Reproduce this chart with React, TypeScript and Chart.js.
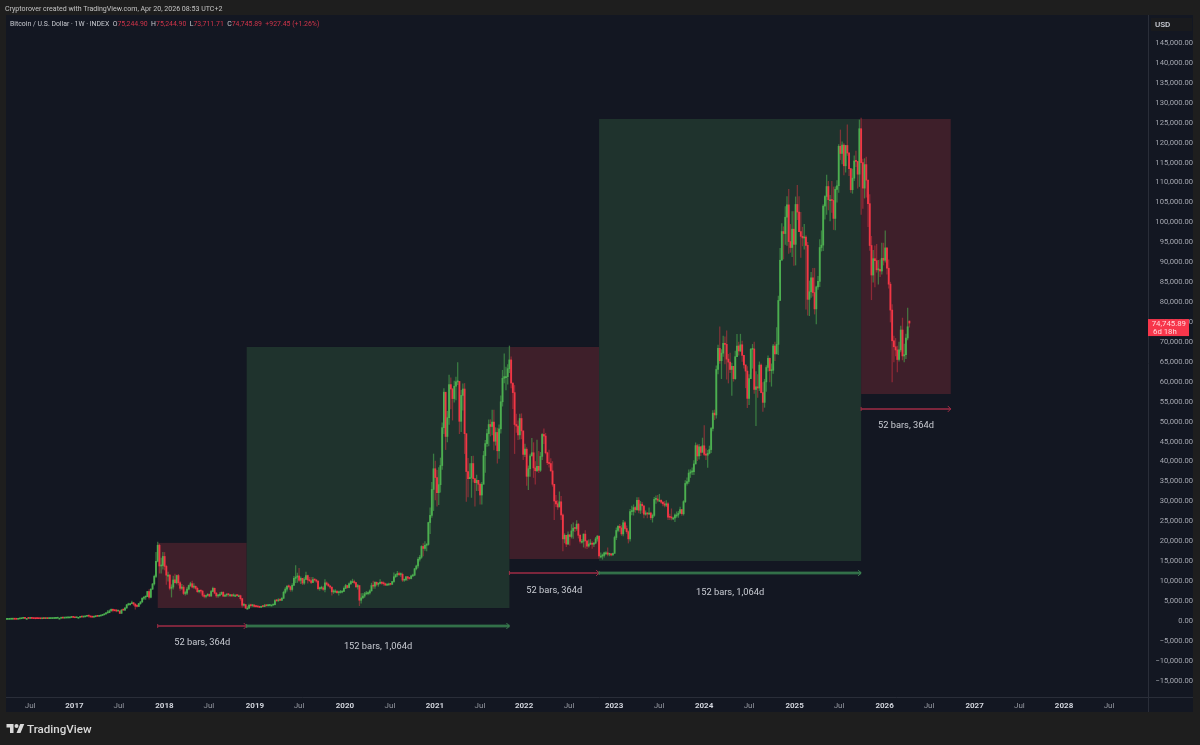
import { useEffect, useRef } from "react"
import { Chart, registerables } from "chart.js"

Chart.register(...registerables)

// weekly bars, one line per calendar year (first bar is the week of Apr 4 2016)
const closes = [
  420,427,450,455,458,455,442,530,575,670,760,660,660,650,665,655,610,590,585,580,570,608,605,608,605,615,618,640,655,700,705,705,745,735,765,775,790,895,1000,
  900,825,920,920,1020,1000,1050,1185,1270,1230,1020,970,1090,1190,1180,1260,1400,1550,1750,2040,2100,2520,2950,2650,2590,2500,2510,1930,2750,2740,3250,4050,4090,4350,4580,4230,3700,3660,4370,4780,5700,6000,6130,7400,5950,8000,9300,11200,15000,19000,13800,13900,
  16200,13700,11500,11500,8200,8500,10300,9600,11400,9600,8200,8500,6900,7000,8000,8900,9350,8500,8700,8200,7350,7700,7500,6450,6150,6400,6700,6250,7400,8200,7000,6300,6400,6700,7200,6250,6500,6700,6600,6600,6300,6400,6400,6350,6350,5600,3950,4100,3200,3200,3950,3850,4000,
  3650,3600,3550,3450,3650,3620,3900,3850,3900,4000,4000,4100,5100,5050,5300,5200,5700,7200,8000,8700,8600,7900,8950,10700,11000,11300,10200,10700,9500,10400,11400,10300,10100,9650,10400,10300,10000,8100,8200,8300,7950,9550,9200,8800,8500,7300,7500,7500,7100,7150,7250,7400,
  8200,8900,8400,9350,9900,9900,9650,8550,8900,5200,5800,6250,6800,6850,7050,7550,8900,8750,9700,9200,9450,9700,9450,9350,9000,9050,9300,9200,9900,11100,11600,11900,11650,11700,10250,10300,11100,10750,10650,11300,11500,13100,13800,15500,16000,18700,18200,19000,19200,24700,26500,33000,
  38200,36000,32200,34200,39000,48500,57400,46300,51000,59300,58200,55800,58900,60000,60100,50100,56600,58200,47000,37500,35700,36000,39500,35700,34700,35300,34300,31600,34300,41500,44500,47000,49300,48800,49900,45100,47300,42700,48200,55000,60900,61300,61300,63300,65500,59700,57300,49300,48900,46700,50800,47700,
  41800,43100,36300,38200,41400,42200,38400,37700,38800,37800,41300,46800,46400,42200,39700,39500,37650,34300,30100,29400,28600,29900,26600,20600,21500,19300,21600,21200,22600,23300,23200,24300,21500,20000,20000,21800,20100,18800,19300,19400,19250,19550,20600,21300,16300,16300,16450,17100,17100,16750,16850,16550,
  16950,20950,22700,23750,23350,21850,24650,23200,22400,20600,27450,27500,28450,27950,30300,27800,29300,28900,26800,27100,26850,27100,25900,26500,30500,30600,30300,30300,29800,29400,29050,29400,26050,26000,25850,25850,26600,26600,27000,27950,26900,29950,34500,35000,37100,37400,37450,39400,44000,41400,43700,42300,
  43950,41800,41600,42050,43000,48300,52150,51700,63100,68400,65300,67200,69650,69400,65700,64950,63100,63900,60800,66300,69000,67750,69300,66650,64250,62700,55850,60800,68150,68250,58100,58750,58450,64200,57300,54850,60000,63600,65900,62800,62900,69000,67000,69400,80400,90500,97700,97200,101300,104400,95200,93700,98300,
  94500,104500,102600,97700,96500,96100,96300,94250,80700,82600,86100,82400,78300,83800,85200,93700,94300,104100,106500,109000,105700,105700,105500,101000,108300,109200,119100,117300,119400,114200,119300,117400,113500,108200,111100,115400,115300,112100,123500,115000,108600,114500,110600,104700,94200,86800,90900,90400,88100,88200,87800,91000,
  90500,93600,88500,84500,78000,70300,68800,68000,65600,68000,73000,66500,66800,71000,73818,74745.89,
]
const highs = [
  425,430,460,465,465,470,458,535,590,680,780,770,680,680,675,680,660,610,600,590,585,615,615,615,612,620,625,645,660,705,745,725,755,750,770,780,795,900,1010,
  1150,910,930,930,1030,1050,1060,1190,1280,1350,1250,1060,1100,1210,1210,1270,1420,1600,1800,2100,2700,2800,3000,2980,2780,2900,2650,2550,2880,2850,3450,4200,4480,4450,4980,4700,4350,4100,4400,4880,5850,6150,6250,7450,7880,8050,9400,11500,17200,19780,19300,15800,
  17200,17200,14000,12300,11700,9100,11250,11750,11500,11700,9900,9200,8950,7500,8450,9030,9750,9990,9400,8850,8500,7780,7780,7680,6800,6500,6900,6800,7680,8480,8300,7150,6550,7100,7300,7400,6550,6800,6800,6700,6650,6800,6600,6500,6550,6500,5700,4400,4200,3600,4250,4250,4100,
  4100,3800,3650,3600,3700,3700,4200,3950,3950,4000,4050,4200,5350,5450,5600,5650,5850,7500,8400,8950,9100,8800,9400,11200,13900,12000,13200,11100,10700,10900,12300,11500,10950,10950,10950,10450,10400,10100,8500,8750,8700,10400,9800,9500,8900,8500,7850,7900,7500,7500,7700,7550,
  8550,9200,8800,9550,10150,10500,10250,9700,9200,8200,6900,6950,7200,7450,7300,7800,9500,10000,9900,9850,9600,10400,9980,9850,9500,9350,9500,9350,9950,12100,11800,12450,12300,12100,12050,10400,11200,11200,10950,11500,11750,13200,14000,15900,16500,18900,19400,19900,19450,24800,28400,34800,
  41900,40100,37800,38500,40900,49700,58300,52600,52600,61700,61000,58400,60200,61200,64850,57500,57900,59500,59600,45900,40800,39500,41300,41400,35500,36600,35100,34600,34800,42600,45300,48100,50500,50500,52900,52900,48500,48400,49200,56500,62900,67000,63700,64300,69000,66300,59400,59100,51900,50200,51900,52000,
  47500,44400,43500,38900,41900,45800,44750,40000,45400,42550,42300,47000,48200,47100,42400,42900,40750,40000,34200,31500,30200,32400,31300,26900,21900,21500,22400,21650,24200,24650,23400,25200,24450,21800,20500,21850,22700,19950,20350,20450,19950,19700,21000,21450,21050,17100,16800,17300,17400,18350,16950,16950,
  17050,21300,23350,23950,24250,23950,25250,25000,23900,22650,28000,28850,29150,28700,30950,30950,30000,29750,28650,27650,27200,28400,27350,26850,31000,31400,31500,31800,30400,30000,30000,30200,29700,26800,28150,26100,26900,27400,27500,28600,28000,30200,35200,35900,37950,37950,38400,40250,44700,44400,44300,43800,
  45900,49000,43200,42800,43900,48600,52800,52950,64000,69200,73800,68100,71500,71300,72800,66900,67200,64700,63450,67700,71950,70000,71950,70200,66500,63400,63800,61800,68400,69400,70000,62600,61800,65000,64500,59800,60650,64100,66500,66000,64500,69400,70000,73600,81500,93500,99700,98900,104000,106500,108300,99500,102700,
  102700,106400,109300,106500,102500,98800,99500,96700,95000,85300,87500,88500,88500,84000,86500,95700,97900,104500,106700,111900,110300,106800,110300,108900,108900,110500,119500,123200,120200,119800,119300,124500,117600,113500,113400,116700,117900,113500,125700,126200,115900,116000,116400,107500,107000,96500,93000,94100,94500,90500,90600,94800,
  94800,97900,93500,90600,85000,79400,71500,70900,69000,70000,74000,76000,69500,72000,78500,75244.9,
]
const lows = [
  410,418,425,448,440,445,435,440,525,570,660,560,600,630,645,645,600,520,565,565,560,565,600,600,590,600,610,615,635,650,680,695,690,725,715,755,770,785,885,
  880,750,820,880,915,940,975,1040,1150,950,950,910,940,1050,1120,1160,1250,1380,1540,1700,1950,2100,2450,2300,2480,2300,2400,1850,1900,2650,2650,3200,3950,3950,4350,3900,2950,3500,3600,4170,4650,5350,5400,6100,5500,5800,7900,9000,10900,14800,12000,12000,
  13000,12800,9200,10000,7800,6000,8000,9500,9300,9000,7700,7900,6600,6500,6600,7800,8650,8300,8200,7900,7200,7050,7000,6100,5800,5800,6200,6100,6250,7400,6800,5900,5900,6250,6700,6100,6100,6150,6200,6100,6100,6250,6350,6300,6250,5200,3500,3700,3200,3120,3200,3550,3650,
  3550,3450,3500,3350,3400,3550,3600,3700,3700,3800,3900,3950,4050,4950,4950,5100,5100,5650,6900,7500,8300,7450,7500,8950,9600,9700,9800,9350,9100,9150,10400,9500,9900,9350,9650,10000,9700,7800,7700,8000,7700,7300,8900,8700,8100,6500,6900,7150,6900,6450,7000,7050,
  7700,8100,8250,8300,9100,9700,9300,8500,8000,3850,4450,5650,5900,6650,6550,6700,7500,8200,8200,8800,8700,9300,9150,8950,8950,8900,9000,9000,9200,9700,10950,11200,11400,11200,9900,9900,10200,10150,10450,10550,11200,11350,12800,13300,15000,15700,16300,17700,17600,19000,21900,26000,
  27700,30400,28800,29200,32300,38000,47000,43000,44950,49300,53200,50400,54900,55450,59300,47000,47500,52900,42000,30000,31100,35700,31000,34800,28800,32700,32700,29300,29300,36400,37300,43800,43900,46400,46700,42900,44100,39600,40800,47100,53900,59700,58000,59400,62300,58500,53300,42000,47300,45500,45600,45700,
  40500,41250,34000,32950,36300,41700,36000,34300,37450,37200,37500,40500,44500,41900,39250,38600,37600,33800,25400,28700,28000,29300,25400,17600,19600,18650,19300,19000,20800,20700,22400,22700,20800,19550,19550,18550,18300,18150,18500,19150,18200,18650,19350,20050,15750,15800,15500,16000,16750,16300,16350,16350,
  16500,17300,20400,22350,22500,21450,21350,22800,21950,19550,20050,26600,26550,27250,27750,27100,26950,27100,25850,26550,25850,26650,25400,24800,26250,29500,29900,29950,29500,28900,28600,28700,25400,25400,25350,25400,24950,26000,26000,27150,26500,26550,29700,34100,34500,36000,36700,36700,39400,40200,40600,41450,
  42600,41500,40500,38500,41900,42250,47700,50500,50900,62000,64600,60800,66400,64500,60700,59700,62300,56600,60150,60600,66600,66700,67600,65100,63400,58500,53500,54300,62400,63400,57100,49000,56100,57800,57200,52600,53600,57600,62700,60000,58900,62100,65300,67500,66800,85000,90800,90800,94500,94200,92200,92500,91400,
  89200,89300,100700,97800,91200,94100,93300,78200,76700,76600,81200,81500,77000,74500,83200,83900,92800,92900,100800,102000,103100,100400,102500,98200,98100,105100,107500,115700,114700,111900,112600,116800,111700,107500,107300,110500,114000,108600,109000,102000,103500,106100,106300,98900,93000,80600,85000,83800,87500,84500,86400,87000,
  89300,90000,87000,83500,75000,60000,65000,66500,62500,65200,67500,65500,65000,65800,70500,73711.71,
]
const firstOpen = 415
const lastOpen = 75244.9

const xTickPositions = [14,39.7,65.5,91.9,117.7,144.4,170,196.6,222.7,248.8,274.9,300.5,326.6,352.7,378.8,404.9,431,457.4,483.2,509.6,535.4,561.8,587.8,613.7,639.8]
const xTickLabels = ["Jul","2017","Jul","2018","Jul","2019","Jul","2020","Jul","2021","Jul","2022","Jul","2023","Jul","2024","Jul","2025","Jul","2026","Jul","2027","Jul","2028","Jul"]
const priceTicks = [-15000,-10000,-5000,0,5000,10000,15000,20000,25000,30000,35000,40000,45000,50000,55000,60000,65000,70000,75000,80000,85000,90000,95000,100000,105000,110000,115000,120000,125000,130000,135000,140000,145000]

// the shaded date/price ranges, in bar index and USD
const rangeStarts = [88, 139.6, 292, 344, 496]
const rangeEnds = [139.6, 292, 344, 496, 548]
const rangeTops = [19600, 68741, 68741, 125940, 125940]
const rangeBottoms = [3260, 3260, 15554, 15052, 56950]
const rangeIsUp = [false, true, false, true, false]
const rangeArrowValues = [-1250, -1250, 12050, 12050, 53200]
const rangeLabelValues = [-5500, -6500, 7550, 7000, 49000]
const rangeLabels = ["52 bars, 364d", "152 bars, 1,064d", "52 bars, 364d", "152 bars, 1,064d", "52 bars, 364d"]

const lastPrice = 74745.89
const lastPriceLabel = "74,745.89"
const countdownLabel = "6d 18h"

const UP = "#4caf50"
const DOWN = "#f23645"
const FONT = "Roboto, 'Noto Sans', sans-serif"

const opens = closes.map((_, i) => (i === 0 ? firstOpen : i === closes.length - 1 ? lastOpen : closes[i - 1]))
const isUp = closes.map((c, i) => c >= opens[i])

function formatPrice(v: number) {
  const s = Math.abs(v).toLocaleString("en-US", { minimumFractionDigits: 2, maximumFractionDigits: 2 })
  return v < 0 ? "\u2212" + s : s
}

const overlayPlugin = {
  id: "overlay",
  beforeDraw(chart: Chart) {
    const { ctx, chartArea, width, height } = chart
    const axisRight = chart.scales.y.right
    const axisBottom = chart.scales.x.bottom
    ctx.save()
    ctx.fillStyle = "#1e1e1e"
    ctx.fillRect(0, 0, width, height)
    ctx.fillStyle = "#131722"
    ctx.fillRect(chartArea.left, chartArea.top, axisRight - chartArea.left, axisBottom - chartArea.top)
    ctx.restore()
  },
  beforeDatasetsDraw(chart: Chart) {
    const { ctx, scales } = chart
    ctx.save()
    rangeStarts.forEach((start, i) => {
      const x0 = scales.x.getPixelForValue(start)
      const x1 = scales.x.getPixelForValue(rangeEnds[i])
      const y0 = scales.y.getPixelForValue(rangeTops[i])
      const y1 = scales.y.getPixelForValue(rangeBottoms[i])
      ctx.fillStyle = rangeIsUp[i] ? "#1f332d" : "#3e1f2a"
      ctx.fillRect(x0, y0, x1 - x0, y1 - y0)
    })
    ctx.restore()
  },
  afterDraw(chart: Chart) {
    const { ctx, scales, chartArea } = chart
    const axisRight = scales.y.right
    const axisBottom = scales.x.bottom
    ctx.save()

    // pane separators
    ctx.strokeStyle = "#2a2e39"
    ctx.lineWidth = 1
    ctx.beginPath()
    ctx.moveTo(chartArea.left, chartArea.bottom + 0.5)
    ctx.lineTo(axisRight, chartArea.bottom + 0.5)
    ctx.moveTo(chartArea.right + 0.5, chartArea.top)
    ctx.lineTo(chartArea.right + 0.5, axisBottom)
    ctx.stroke()

    // measure arrows and their labels
    ctx.textAlign = "center"
    ctx.textBaseline = "middle"
    rangeStarts.forEach((start, i) => {
      const x0 = scales.x.getPixelForValue(start)
      const x1 = scales.x.getPixelForValue(rangeEnds[i])
      const y = scales.y.getPixelForValue(rangeArrowValues[i])
      ctx.strokeStyle = rangeIsUp[i] ? "#2a5f40" : "#a02c46"
      ctx.lineWidth = rangeIsUp[i] ? 3 : 1.4
      ctx.beginPath()
      ctx.moveTo(x0, y)
      ctx.lineTo(x1, y)
      ctx.stroke()
      if (rangeIsUp[i]) {
        ctx.strokeStyle = "#3d8252"
        ctx.lineWidth = 1
        ctx.beginPath()
        ctx.moveTo(x0, y)
        ctx.lineTo(x1, y)
        ctx.stroke()
      }
      ctx.lineWidth = 1
      ctx.beginPath()
      ctx.moveTo(x1 - 3, y - 3)
      ctx.lineTo(x1, y)
      ctx.lineTo(x1 - 3, y + 3)
      ctx.moveTo(x0, y - 2)
      ctx.lineTo(x0, y + 2)
      ctx.stroke()

      ctx.fillStyle = "#c9ccd3"
      ctx.font = `9.3px ${FONT}`
      ctx.fillText(rangeLabels[i], (x0 + x1) / 2, scales.y.getPixelForValue(rangeLabelValues[i]))
    })

    // USD box at the top of the price axis
    ctx.fillStyle = "#191a1d"
    ctx.fillRect(chartArea.right + 3, chartArea.top + 3, 41, 13)
    ctx.fillStyle = "#d1d4dc"
    ctx.textAlign = "left"
    ctx.font = `500 8px ${FONT}`
    ctx.fillText("USD", chartArea.right + 7, chartArea.top + 9.5)

    // last price tag
    const tagY = scales.y.getPixelForValue(lastPrice)
    ctx.fillStyle = "#f7364b"
    ctx.fillRect(chartArea.right, tagY - 4, 41, 17)
    ctx.fillStyle = "#ffd9dd"
    ctx.textAlign = "right"
    ctx.font = `7.8px ${FONT}`
    ctx.fillText(lastPriceLabel, chartArea.right + 38, tagY + 0.5)
    ctx.textAlign = "left"
    ctx.fillText(countdownLabel, chartArea.right + 5, tagY + 8.5)
    ctx.restore()
  },
}

export default function App() {
  const chartRef = useRef<HTMLCanvasElement>(null)
  const chartInstance = useRef<Chart | null>(null)

  useEffect(() => {
    if (!chartRef.current) return
    const ctx = chartRef.current.getContext("2d")
    if (!ctx) return

    chartInstance.current = new Chart(ctx, {
      type: "bar",
      data: {
        datasets: [
          {
            label: "Body",
            data: closes.map((c, i) => ({ x: i, y: [opens[i], c] })),
            backgroundColor: isUp.map((u) => (u ? UP : DOWN)),
            barThickness: 1.2,
            minBarLength: 1,
            grouped: false,
            order: 1,
          },
          {
            label: "Wick",
            data: closes.map((_, i) => ({ x: i, y: [lows[i], highs[i]] })),
            backgroundColor: isUp.map((u) => (u ? "rgba(76,175,80,0.6)" : "rgba(242,54,69,0.45)")),
            barThickness: 0.6,
            grouped: false,
            order: 2,
          },
        ] as any,
      },
      plugins: [overlayPlugin],
      options: {
        responsive: false,
        animation: false,
        layout: { padding: { left: 6, top: 15, right: 7, bottom: 33 } },
        plugins: { legend: { display: false }, tooltip: { enabled: false } },
        scales: {
          x: {
            type: "linear",
            min: 0,
            max: 662.4,
            offset: false,
            grid: { display: false, offset: false, drawTicks: false },
            border: { display: false },
            afterBuildTicks: (axis: any) => {
              axis.ticks = xTickPositions.map((value) => ({ value }))
            },
            afterFit: (axis: any) => {
              axis.height = 15
            },
            ticks: {
              autoSkip: false,
              maxRotation: 0,
              minRotation: 0,
              padding: 4,
              callback: (_v: any, i: number) => xTickLabels[i],
              color: (c: any) => (xTickLabels[c.index] === "Jul" ? "#9598a1" : "#d1d4dc"),
              font: (c: any) => ({
                family: FONT,
                size: 8,
                weight: xTickLabels[c.index] === "Jul" ? "normal" : "bold",
              }),
            },
          },
          y: {
            type: "linear",
            position: "right",
            min: -19067,
            max: 152032,
            grid: { display: false, drawTicks: false },
            border: { display: false },
            afterBuildTicks: (axis: any) => {
              axis.ticks = priceTicks.map((value) => ({ value }))
            },
            afterFit: (axis: any) => {
              axis.width = 45
            },
            ticks: {
              autoSkip: false,
              padding: 5,
              crossAlign: "far",
              color: "#a3a6af",
              font: { family: FONT, size: 7.6 },
              callback: (v: any) => formatPrice(Number(v)),
            },
          },
        },
      } as any,
    })

    return () => {
      if (chartInstance.current) {
        chartInstance.current.destroy()
      }
    }
  }, [])

  const red = { color: "#d0344a" }
  return (
    <div style={{ position: "fixed", left: 0, top: 0, width: 1200, height: 745, background: "#1e1e1e", fontFamily: FONT, overflow: "hidden" }}>
      <canvas ref={chartRef} width={1200} height={745} style={{ display: "block", position: "absolute", left: 0, top: 0 }} />
      <div style={{ position: "absolute", left: 5, top: 4, fontSize: 7.05, lineHeight: "10px", color: "#c4c4c4", whiteSpace: "nowrap" }}>
        Cryptorover created with TradingView.com, Apr 20, 2026 08:53 UTC+2
      </div>
      <div style={{ position: "absolute", left: 10, top: 19, fontSize: 6.9, lineHeight: "10px", color: "#c8cad0", whiteSpace: "nowrap" }}>
        Bitcoin / U.S. Dollar · 1W · INDEX&nbsp;&nbsp;O<span style={red}>75,244.90</span>&nbsp;&nbsp;H<span style={red}>75,244.90</span>&nbsp;&nbsp;L<span style={red}>73,711.71</span>&nbsp;&nbsp;C<span style={red}>74,745.89</span>&nbsp;&nbsp;<span style={red}>+927.45 (+1.26%)</span>
      </div>
      <svg viewBox="0 0 36 28" width={19} height={14} style={{ position: "absolute", left: 6, top: 722 }}>
        <path fill="#d9d9d9" d="M14 22H7V11H0V4h14v18zM28 22h-8l7.5-18h8L28 22z" />
        <circle fill="#d9d9d9" cx="20" cy="8" r="4" />
      </svg>
      <div style={{ position: "absolute", left: 27, top: 721, fontSize: 11.6, lineHeight: "16px", fontWeight: 500, color: "#d9d9d9", whiteSpace: "nowrap" }}>
        TradingView
      </div>
    </div>
  )
}
